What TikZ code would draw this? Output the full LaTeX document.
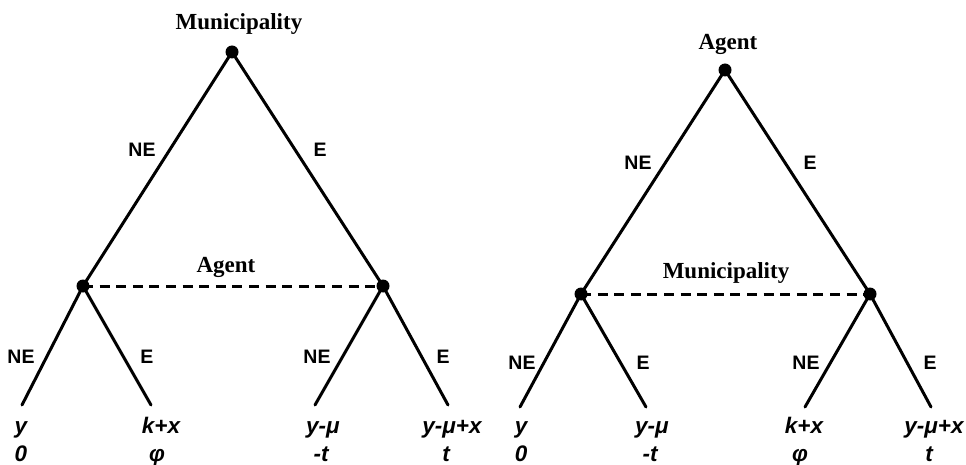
\documentclass[tikz,border=0pt]{standalone}
\usepackage{fontspec}
\setmainfont{Liberation Serif}
\newfontfamily\arialf{Liberation Sans}
\begin{document}
\begin{tikzpicture}[x=1pt,y=-1pt,
  dot/.style={circle,fill=black,inner sep=0pt,minimum size=13pt},
  branch/.style={line width=3pt,line cap=round},
  infoset/.style={line width=3pt,dash pattern=on 10pt off 6.6pt},
  player/.style={font=\fontsize{23}{26}\selectfont\bfseries,inner sep=0pt,anchor=base},
  act/.style={font=\arialf\fontsize{19.5}{22}\selectfont\bfseries,inner sep=0pt},
  pay/.style={font=\arialf\fontsize{22.5}{26}\selectfont\bfseries\itshape,inner sep=0pt,anchor=base}]
\useasboundingbox (0,0) rectangle (966,465);
% ---------- left tree ----------
\node[dot] (L0) at (232,52) {};
\node[dot] (L1) at (83,286) {};
\node[dot] (L2) at (383,286) {};
\coordinate (L11) at (22,405);
\coordinate (L12) at (151,405);
\coordinate (L21) at (315,405);
\coordinate (L22) at (448,405);
\draw[branch] (L0.center) -- (L1.center);
\draw[branch] (L0.center) -- (L2.center);
\draw[branch] (L1.center) -- (L11);
\draw[branch] (L1.center) -- (L12);
\draw[branch] (L2.center) -- (L21);
\draw[branch] (L2.center) -- (L22);
\draw[infoset] (L1.center) -- (L2.center);
\node[player] (LP0) at (239,30) {Municipality};
\node[player] (LP1) at (226,272) {Agent};
\node[act] (LaNE) at (142,150) {NE};
\node[act] (LaE) at (320,150) {E};
\node[act] (La1NE) at (21,357) {NE};
\node[act] (La1E) at (147,357) {E};
\node[act] (La2NE) at (317,357) {NE};
\node[act] (La2E) at (443,357) {E};
\node[pay] (Lp1a) at (21,433) {y};
\node[pay] (Lp1b) at (21,461) {0};
\node[pay] (Lp2a) at (161,433) {k+x};
\node[pay] (Lp2b) at (157,461) {φ};
\node[pay] (Lp3a) at (323,433) {y-μ};
\node[pay] (Lp3b) at (321,461) {-t};
\node[pay] (Lp4a) at (452,433) {y-μ+x};
\node[pay] (Lp4b) at (446,461) {t};
% ---------- right tree ----------
\node[dot] (R0) at (725,70) {};
\node[dot] (R1) at (581,294) {};
\node[dot] (R2) at (870,294) {};
\coordinate (R11) at (520,407);
\coordinate (R12) at (646,407);
\coordinate (R21) at (805,407);
\coordinate (R22) at (931,407);
\draw[branch] (R0.center) -- (R1.center);
\draw[branch] (R0.center) -- (R2.center);
\draw[branch] (R1.center) -- (R11);
\draw[branch] (R1.center) -- (R12);
\draw[branch] (R2.center) -- (R21);
\draw[branch] (R2.center) -- (R22);
\draw[infoset] (R1.center) -- (R2.center);
\node[player] (RP0) at (728,50) {Agent};
\node[player] (RP1) at (726,278) {Municipality};
\node[act] (RaNE) at (638,163) {NE};
\node[act] (RaE) at (810,163) {E};
\node[act] (Ra1NE) at (522,363) {NE};
\node[act] (Ra1E) at (643,363) {E};
\node[act] (Ra2NE) at (806,363) {NE};
\node[act] (Ra2E) at (930,363) {E};
\node[pay] (Rp1a) at (521,433) {y};
\node[pay] (Rp1b) at (521,461) {0};
\node[pay] (Rp2a) at (652,433) {y-μ};
\node[pay] (Rp2b) at (650,461) {-t};
\node[pay] (Rp3a) at (804,433) {k+x};
\node[pay] (Rp3b) at (800,461) {φ};
\node[pay] (Rp4a) at (934,433) {y-μ+x};
\node[pay] (Rp4b) at (929,461) {t};
\end{tikzpicture}
\end{document}
